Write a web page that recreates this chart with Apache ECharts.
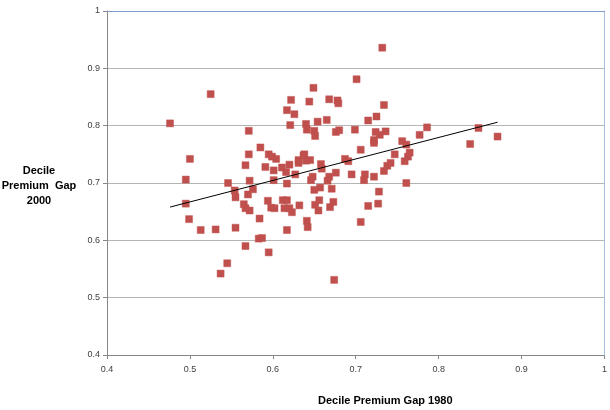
<!DOCTYPE html>
<html>
<head>
<meta charset="utf-8">
<script src="https://cdn.jsdelivr.net/npm/echarts@6/dist/echarts.min.js"></script>
<style>
html,body{margin:0;padding:0;background:#fff;}
#c{width:610px;height:410px;}
</style>
</head>
<body>
<div id="c"></div>
<script>
// Decile Premium Gap 1980 (x) vs 2000 (y)
const gap1980 = [
0.476,0.525,0.500,0.495,0.495,0.499,0.513,0.531,0.537,0.545,
0.546,0.554,0.555,0.555,0.565,0.567,0.572,0.567,0.571,0.571,
0.567,0.572,0.576,0.570,0.585,0.583,0.587,0.584,0.595,0.599,
0.604,0.591,0.601,0.611,0.601,0.594,0.598,0.602,0.595,0.612,
0.617,0.614,0.620,0.623,0.617,0.617,0.616,0.620,0.627,0.631,
0.637,0.640,0.645,0.631,0.632,0.641,0.642,0.646,0.648,0.650,
0.657,0.656,0.651,0.655,0.658,0.659,0.671,0.673,0.669,0.676,
0.668,0.666,0.674,0.687,0.691,0.695,0.706,0.706,0.711,0.710,
0.722,0.715,0.727,0.728,0.734,0.738,0.742,0.747,0.759,0.763,
0.765,0.761,0.756,0.761,0.777,0.786,0.838,0.848,0.871,0.722,
0.722,0.699,0.724,0.736,0.729,0.715,0.725,0.734,0.701,0.732,
0.649,0.622,0.644,0.668,0.678,0.679,0.617,0.626,0.621,0.640,
0.654,0.665,0.641,0.650,0.651,0.676,0.680,0.638
];
const gap2000 = [
0.804,0.855,0.742,0.706,0.664,0.637,0.618,0.619,0.542,0.560,
0.700,0.687,0.675,0.622,0.663,0.656,0.652,0.590,0.791,0.750,
0.731,0.704,0.689,0.680,0.762,0.603,0.604,0.638,0.750,0.746,
0.742,0.728,0.722,0.727,0.705,0.669,0.657,0.656,0.579,0.670,
0.670,0.656,0.656,0.649,0.699,0.618,0.719,0.732,0.715,0.740,
0.748,0.739,0.740,0.735,0.661,0.634,0.623,0.705,0.711,0.688,
0.692,0.670,0.662,0.652,0.733,0.725,0.690,0.667,0.658,0.718,
0.711,0.704,0.531,0.742,0.738,0.715,0.632,0.758,0.715,0.705,
0.711,0.660,0.664,0.685,0.721,0.730,0.735,0.750,0.738,0.746,
0.753,0.700,0.773,0.767,0.784,0.797,0.768,0.796,0.781,0.775,
0.770,0.793,0.789,0.790,0.784,0.809,0.816,0.836,0.881,0.936,
0.866,0.845,0.842,0.846,0.844,0.839,0.827,0.820,0.801,0.803,
0.807,0.810,0.793,0.791,0.782,0.789,0.792,0.750
];
// Linear trendline endpoints
const trendX = [0.476, 0.871];
const trendY = [0.658, 0.806];

const ticks = [0.4, 0.5, 0.6, 0.7, 0.8, 0.9, 1];
const xTitle = 'Decile Premium Gap 1980';
const yTitle = ['Decile', 'Premium  Gap', '2000'];

const points = gap1980.map((x, i) => [x, gap2000[i]]);
const trend = trendX.map((x, i) => [x, trendY[i]]);

const font = '"Liberation Sans", Arial, sans-serif';
const chart = echarts.init(document.getElementById('c'), null, {renderer: 'canvas'});
const axisGray = '#868686';
const fmt = v => String(Math.round(v * 10) / 10);

chart.setOption({
  animation: false,
  backgroundColor: '#ffffff',
  grid: {left: 107, right: 4, top: 11, bottom: 55, containLabel: false},
  xAxis: [{
    type: 'value', min: ticks[0], max: ticks[ticks.length - 1], interval: 0.1,
    axisLine: {show: true, lineStyle: {color: axisGray, width: 1}},
    axisTick: {show: true, length: 4, lineStyle: {color: axisGray}},
    axisLabel: {color: '#404040', fontSize: 9, fontFamily: font, margin: 10, formatter: fmt},
    splitLine: {show: false}
  }, {
    type: 'value', position: 'top', min: ticks[0], max: ticks[ticks.length - 1], interval: 0.1, z: 5,
    axisLine: {show: true, onZero: false, lineStyle: {color: '#7f9dcb', width: 1}},
    axisTick: {show: false}, axisLabel: {show: false}, splitLine: {show: false}
  }],
  yAxis: [{
    type: 'value', min: ticks[0], max: ticks[ticks.length - 1], interval: 0.1,
    axisLine: {show: true, lineStyle: {color: axisGray, width: 1}},
    axisTick: {show: true, length: 4, lineStyle: {color: axisGray}},
    axisLabel: {color: '#404040', fontSize: 9, fontFamily: font, margin: 7, formatter: fmt},
    splitLine: {show: true, lineStyle: {color: '#b4b4b4', width: 1}}
  }, {
    type: 'value', position: 'right', min: ticks[0], max: ticks[ticks.length - 1], interval: 0.1, z: 5,
    axisLine: {show: true, onZero: false, lineStyle: {color: '#a9bfe0', width: 1}},
    axisTick: {show: false}, axisLabel: {show: false}, splitLine: {show: false}
  }],
  graphic: [
    {type: 'text', left: 318, top: 395, style: {text: xTitle, font: 'bold 11px ' + font, fill: '#000'}},
    {type: 'text', x: 39, y: 163, style: {text: yTitle.join('\n'), font: 'bold 11px ' + font, fill: '#000', align: 'center', lineHeight: 15}}
  ],
  series: [{
    type: 'scatter',
    data: points,
    symbol: 'rect',
    symbolSize: 7,
    itemStyle: {color: '#c0504d', borderColor: 'rgba(192,80,77,0.45)', borderWidth: 1, opacity: 1},
    z: 2
  }, {
    type: 'line',
    data: trend,
    showSymbol: false,
    symbol: 'none',
    lineStyle: {color: '#000000', width: 1},
    z: 3
  }]
});
</script>
</body>
</html>
